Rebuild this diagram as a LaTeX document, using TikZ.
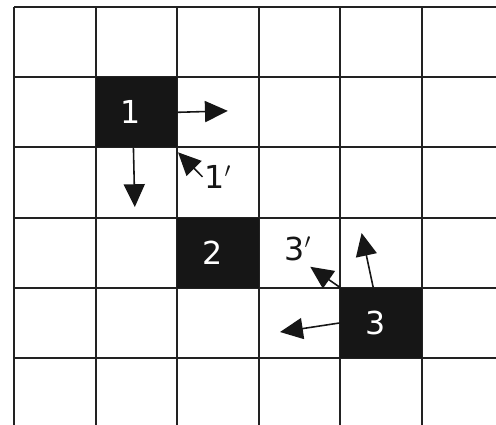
\documentclass[tikz,border=0pt]{standalone}
\usepackage{fontspec}
\setmainfont{DejaVu Sans}
\usepackage{xcolor}
\usepackage{tikz}
\usetikzlibrary{arrows.meta,positioning}
\definecolor{clrCell}{RGB}{22,22,22}
\definecolor{clrLine}{RGB}{34,34,34}
\tikzset{
  gridline/.style={draw=clrLine,line width=1.2pt},
  agent/.style={rectangle,fill=clrCell,text=white,
    font=\fontsize{18}{20}\selectfont,
    execute at end node={\kern0.22cm},
    minimum width=1.632cm,minimum height=1.404cm,inner sep=0pt},
  ghost/.style={font=\fontsize{18}{20}\selectfont,text=clrCell,inner sep=1pt},
  move/.style={-{Triangle[length=13pt,width=12pt]},line width=0.9pt,color=clrCell}
}

\begin{document}
\begin{tikzpicture}[x=1.632cm,y=1.404cm]
  \useasboundingbox (-0.172,0.1) rectangle (5.907,-5.954);

  % board
  \foreach \c in {0,...,5}
    \draw[gridline] (\c,0) -- (\c,-5.954);
  \foreach \r in {0,...,5}
    \draw[gridline] (0,-\r) -- (5.907,-\r);

  \node[agent] (c1) at (1.5,-1.5) {1};
  \node[agent] (c2) at (2.5,-3.5) {2};
  \node[agent] (c3) at (4.5,-4.5) {3};

  \node[ghost] (g1) at (2.5,-2.42) {1$^{\prime}$};
  \node[ghost] (g3) at (3.48,-3.44) {3$^{\prime}$};

  \coordinate (r1) at (2.62,-1.48);
  \coordinate (d1) at (1.48,-2.85);
  \coordinate (k1) at (2.01,-2.07);
  \coordinate (k3) at (3.63,-3.70);
  \coordinate (u3) at (4.26,-3.22);
  \coordinate (l3) at (3.26,-4.63);

  \draw[move] (c1.east) -- (r1);
  \draw[move] ([xshift=-0.06cm]c1.south) -- (d1);
  \draw[move] (g1.west) -- (k1);
  \draw[move] (c3.north west) -- (k3);
  \draw[move] ([xshift=-0.16cm]c3.north) -- (u3);
  \draw[move] (c3.west) -- (l3);
\end{tikzpicture}
\end{document}
